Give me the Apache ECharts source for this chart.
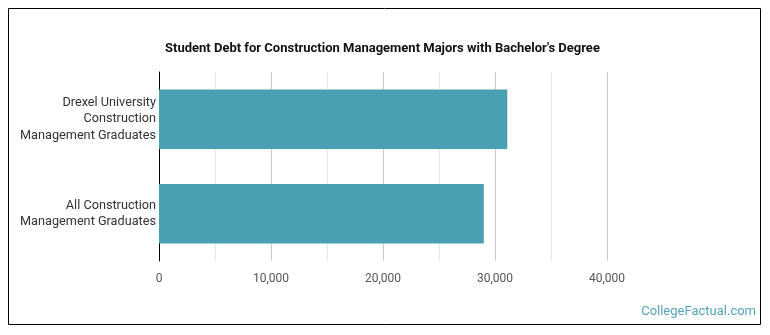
<!DOCTYPE html>
<html><head><meta charset="utf-8">
<script src="https://cdn.jsdelivr.net/npm/echarts@6/dist/echarts.min.js"></script>
<style>html,body{margin:0;padding:0;background:#fff}#c{width:770px;height:335px}</style>
</head><body><div id="c"></div>
<script>
const categories = ["All Construction\nManagement Graduates", "Drexel University\nConstruction\nManagement Graduates"];
const debtValues = [29000, 31100];
const tickValues = [0, 10000, 20000, 30000, 40000];
const titleText = "Student Debt for Construction Management Majors with Bachelor's Degree";
const watermark = "CollegeFactual.com";

const chart = echarts.init(document.getElementById('c'), null, {renderer: 'canvas'});
const fmt = v => v.toLocaleString('en-US');
chart.setOption({
  animation: false,
  title: {
    text: titleText, left: 160, top: 37,
    textStyle: {fontFamily: 'Roboto', fontWeight: 'bold', fontSize: 13, color: '#111'}
  },
  graphic: [
    {type: 'rect', shape: {x: 8.5, y: 8.5, width: 752, height: 316}, style: {fill: 'none', stroke: '#000', lineWidth: 1}, z: -1},
    {type: 'text', right: 14, top: 305, style: {text: watermark, fill: '#55a5b9', font: '13px Roboto'}}
  ],
  grid: {left: 159, right: 163, top: 72, height: 189, containLabel: false},
  xAxis: [{
    type: 'value', min: 0, max: 40000, interval: 5000,
    axisLine: {show: false}, axisTick: {show: false},
    axisLabel: {
      margin: 12, color: '#555', fontFamily: 'Roboto', fontSize: 12,
      formatter: v => tickValues.includes(v) ? fmt(v) : ''
    },
    splitLine: {show: true, lineStyle: {color: ['#ccc', '#e8e8e8'], width: 1}}
  }],
  yAxis: {
    type: 'category', data: categories,
    axisLine: {show: true, lineStyle: {color: '#000', width: 1}},
    axisTick: {show: false},
    axisLabel: {margin: 3, color: '#333', fontFamily: 'Roboto', fontSize: 12.7, lineHeight: 16.5, align: 'right'}
  },
  series: [{
    type: 'bar', data: debtValues, barCategoryGap: '37%',
    itemStyle: {color: '#4aa0b3'}
  }]
});
</script></body></html>
